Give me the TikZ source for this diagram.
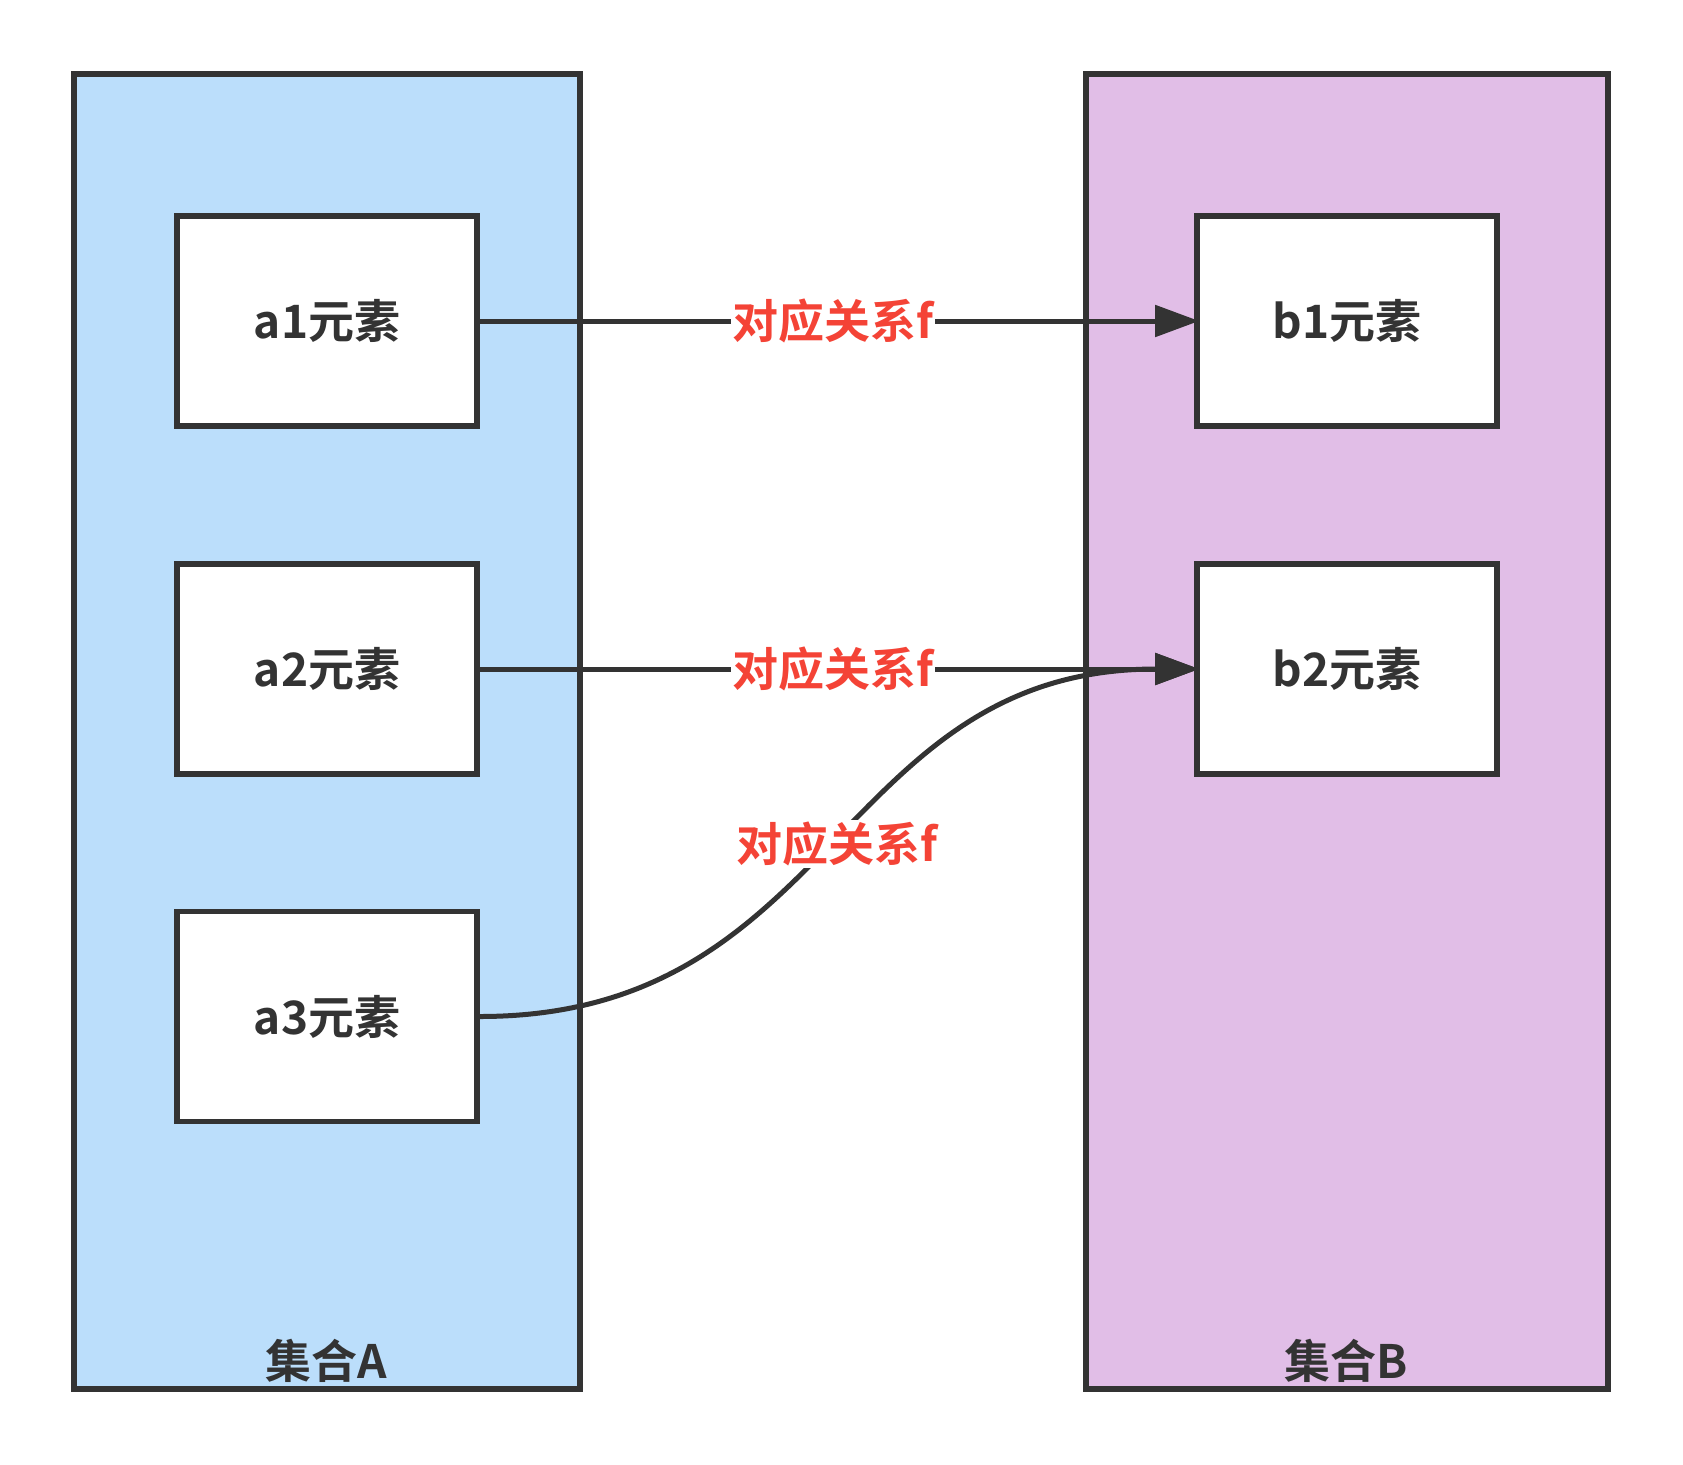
\documentclass[tikz,border=0pt]{standalone}
\usepackage{fontspec}
\newfontfamily\cjk{Noto Sans CJK SC}[UprightFont=* Bold]
\usetikzlibrary{arrows.meta}
\definecolor{ink}{HTML}{333333}
\definecolor{redlab}{HTML}{F44336}
\definecolor{setAfill}{HTML}{BBDEFB}
\definecolor{setBfill}{HTML}{E1BEE7}
\begin{document}
\begin{tikzpicture}[x=1pt,y=-1pt,
  setbox/.style={draw=ink,line width=5.6pt,rectangle,inner sep=0pt,minimum width=#1,minimum height=1315pt},
  elem/.style={draw=ink,line width=5.6pt,fill=white,rectangle,inner sep=0pt,minimum width=300pt,minimum height=210pt,
    font=\cjk\fontsize{46}{54}\selectfont,text=ink},
  setlab/.style={font=\cjk\fontsize{46}{54}\selectfont,text=ink,inner sep=0pt},
  rel/.style={font=\cjk\fontsize{46}{54}\selectfont,text=redlab,fill=white,inner sep=1.5pt},
  conn/.style={draw=ink,line width=5pt,shorten >=-5pt,-{Triangle[length=44pt,width=31pt]}}]
\useasboundingbox (0,0) rectangle (1683,1464);
\fill[white] (0,0) rectangle (1683,1464);
\node[setbox=506pt,fill=setAfill] (A) at (327,731.5) {};
\node[setbox=522pt,fill=setBfill] (B) at (1347,731.5) {};
\node[setlab] (labA) at (326,1361) {集合A};
\node[setlab] (labB) at (1346,1361) {集合B};
\node[elem] (a1) at (327,321) {a1元素};
\node[elem] (a2) at (327,669) {a2元素};
\node[elem] (a3) at (327,1016.5) {a3元素};
\node[elem] (b1) at (1347,321) {b1元素};
\node[elem] (b2) at (1347,669) {b2元素};
\draw[conn] (a1.east) -- (b1.west);
\draw[conn] (a2.east) -- (b2.west);
\draw[conn] (a3.east) .. controls (837,1016.5) and (837,669) .. (b2.west);
\node[rel] (r1) at (833,321) {对应关系f};
\node[rel] (r2) at (833,669) {对应关系f};
\node[rel] (r3) at (837,844) {对应关系f};
\end{tikzpicture}
\end{document}
